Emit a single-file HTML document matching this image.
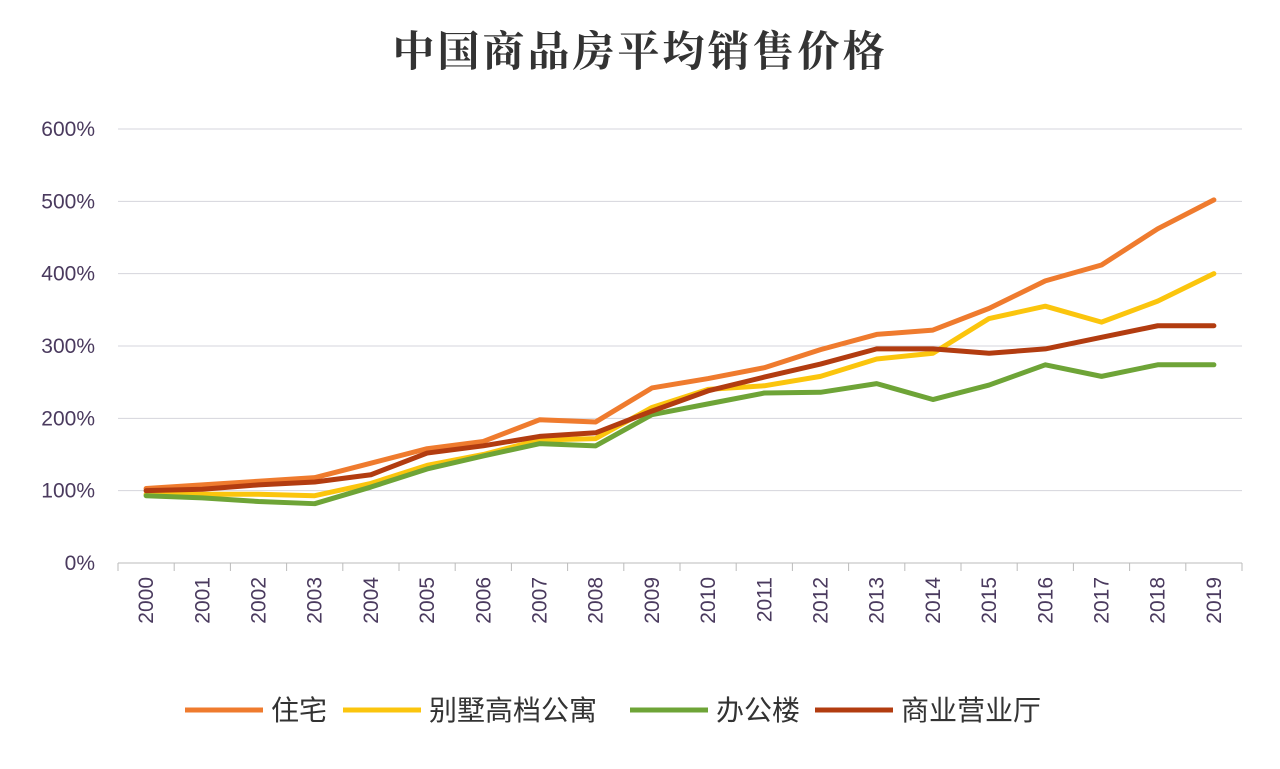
<!DOCTYPE html>
<html><head><meta charset="utf-8"><style>
body{margin:0;background:#fff;width:1280px;height:764px;overflow:hidden}
svg text{font-family:"Liberation Sans","Noto Sans CJK SC",sans-serif}
</style></head><body>
<svg id="chart" width="1280" height="764">
<text x="640" y="66" text-anchor="middle" font-size="42" font-weight="bold" fill="#333" style="font-family:'Noto Serif CJK SC','Noto Sans CJK SC',serif;letter-spacing:3px">中国商品房平均销售价格</text>
<g id="grid"></g><g id="axes"></g><g id="lines"></g><g id="legend"></g>
</svg>
<script>
const years=["2000","2001","2002","2003","2004","2005","2006","2007","2008","2009","2010","2011","2012","2013","2014","2015","2016","2017","2018","2019"];
const yTicks=[0,100,200,300,400,500,600];
const seriesNames=["住宅","别墅高档公寓","办公楼","商业营业厅"];
const residential=[103,108,113,118,138,158,168,198,195,242,255,270,295,316,322,352,390,412,462,502];
const villa=[95,95,95,93,110,135,150,170,172,215,240,245,258,282,290,338,355,333,362,400];
const office=[93,90,85,82,105,130,148,165,162,205,220,235,236,248,226,246,274,258,274,274];
const commercial=[100,102,108,112,122,152,162,175,180,210,238,257,275,296,296,290,296,312,328,328];
const colors=["#ef7b2e","#fbc50d","#6ea437","#b23c10"];
const L=118,R=1242,Y0=563,Y6=129;
const x=i=>L+(R-L)/years.length*(i+0.5);
const y=v=>Y0-(Y0-Y6)*v/600;
const NS="http://www.w3.org/2000/svg";
function mk(p,t,a){const e=document.createElementNS(NS,t);for(const k in a)e.setAttribute(k,a[k]);p.appendChild(e);return e;}
const grid=document.getElementById('grid'),axes=document.getElementById('axes'),lines=document.getElementById('lines'),legend=document.getElementById('legend');
yTicks.forEach(v=>{
 const g=mk(grid,'line',{x1:L,x2:R,y1:y(v),y2:y(v),stroke:v===0?'#bbb':'#d4d4dc','stroke-width':1});
 
 
 const t=mk(axes,'text',{x:95,y:y(v)+7,'text-anchor':'end','font-size':21,fill:'#4a3a5e'});
 t.textContent=v+'%';
 
 
});
for(let i=0;i<=years.length;i++){
 const xx=L+(R-L)/years.length*i;
 const tk=mk(axes,'line',{x1:xx,x2:xx,y1:Y0,y2:Y0+8,stroke:'#bbb'});
 
 
}
years.forEach((yr,i)=>{
 const t=mk(axes,'text',{x:0,y:0,'font-size':21,fill:'#4a3a5e','text-anchor':'end',transform:`translate(${x(i)+7},${Y0+14}) rotate(-90)`});
 t.textContent=yr;
 
 
});
const all=[residential,villa,office,commercial];
const drawOrder=[1,2,0,3];
drawOrder.forEach(s=>{
 const d=all[s].map((v,i)=>(i?'L':'M')+x(i)+','+y(v)).join(' ');
 const p=mk(lines,'path',{d:d,fill:'none',stroke:colors[s],'stroke-width':5,'stroke-linejoin':'round','stroke-linecap':'round'});
 
 
});
const lx=[185,343,630,815];
seriesNames.forEach((n,i)=>{
 const l=mk(legend,'line',{x1:lx[i],x2:lx[i]+78,y1:710,y2:710,stroke:colors[i],'stroke-width':5});
 
 
 const t=mk(legend,'text',{x:lx[i]+86,y:720,'font-size':28,fill:'#333'});
 t.textContent=n;
 
 
});
</script>
</body></html>
